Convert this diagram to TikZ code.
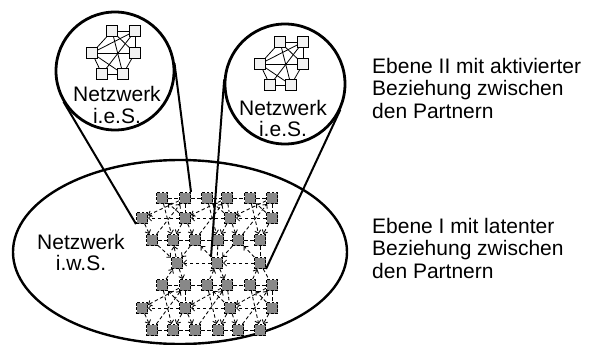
\documentclass[tikz,border=0pt]{standalone}
\usepackage{fontspec}
\setmainfont{Liberation Sans}
\usetikzlibrary{calc,arrows.meta}
\definecolor{sqgray}{RGB}{136,136,136}
\definecolor{msqfill}{RGB}{242,242,242}
\begin{document}
\begin{tikzpicture}[x=1pt,y=-1pt,
  gsq/.style={draw, dash pattern=on 2.8pt off 1.4pt, fill=sqgray, minimum size=11pt, inner sep=0pt, line width=1pt},
  msq/.style={draw, fill=msqfill, minimum size=11pt, inner sep=0pt, line width=0.8pt},
  gedge/.style={dash pattern=on 3.5pt off 2.5pt, line width=0.85pt},
  garr/.style={gedge, -{Straight Barb[length=3pt,width=6pt,line width=0.85pt]}},
  medge/.style={line width=0.8pt},
  lens/.style={draw, circle, line width=2.8pt, inner sep=0pt},
  zoomline/.style={line width=2pt},
  lbl/.style={font=\fontsize{21}{21.5}\selectfont, inner sep=0pt, align=center, anchor=north},
  side/.style={font=\fontsize{21}{22.5}\selectfont, inner sep=0pt, align=left, anchor=north west}]
\useasboundingbox (0,0) rectangle (595,345);

% wide network
\draw[line width=2.4pt] (180,252) ellipse [x radius=167, y radius=92];
\node[lbl] (iws) at (81,233.7) {Netzwerk\\i.w.S.};

% grid squares
\foreach \b/\ya/\yb/\yc in {0/198/218/240, 1/285/308/330} {
  \foreach \x [count=\i] in {162,185,207,227,250,272} \node[gsq] (a\b\i) at (\x,\ya) {};
  \foreach \x [count=\i] in {142,185,230,272} \node[gsq] (m\b\i) at (\x,\yb) {};
  \foreach \x [count=\i] in {152,173,195,218,238,260} \node[gsq] (c\b\i) at (\x,\yc) {};
}
\foreach \x [count=\i] in {177,217,260} \node[gsq] (r\i) at (\x,263) {};

% grid edges within units
\foreach \b in {0,1} {
  \foreach \u in {0,1,2} {
    \pgfmathtruncatemacro\tl{2*\u+1}
    \pgfmathtruncatemacro\tr{2*\u+2}
    \pgfmathtruncatemacro\ml{\u+1}
    \pgfmathtruncatemacro\mr{\u+2}
    \draw[gedge] (a\b\tl) -- (a\b\tr);
    \draw[gedge] (c\b\tl) -- (c\b\tr);
    \draw[garr] (m\b\mr) -- (m\b\ml);
    \draw[garr] (a\b\tr) -- (m\b\ml);
    \draw[garr] (a\b\tl) -- (c\b\tr);
    \draw[garr] (m\b\ml) -- (c\b\tl);
    \draw[garr] (m\b\mr) -- (c\b\tr);
    \draw[garr] (c\b\tl) -- (a\b\tr);
    \draw[garr] (m\b\mr) -- (a\b\tl);
    \draw[gedge] (a\b\tr) -- (m\b\mr);
  }
  \draw[gedge] (a\b2) -- (a\b3);
  \draw[gedge] (a\b4) -- (a\b5);
  \draw[gedge] (c\b2) -- (c\b3);
  \draw[gedge] (c\b4) -- (c\b5);
}
% edges between the two blocks
\draw[garr] (c01) -- (r1);
\draw[garr] (r1) -- (c02);
\draw[garr] (c03) -- (r1);
\draw[garr] (r2) -- (c03);
\draw[gedge] (c04) -- (r2);
\draw[garr] (c05) -- (r2);
\draw[garr] (r3) -- (c05);
\draw[gedge] (c06) -- (r3);
\draw[garr] (r2) -- (r1);
\draw[garr] (r3) -- (r2);
\draw[garr] (a11) -- (r1);
\draw[garr] (r1) -- (a12);
\draw[garr] (a13) -- (r2);
\draw[garr] (r2) -- (a14);
\draw[garr] (a15) -- (r3);
\draw[gedge] (r3) -- (a16);

% lenses
\node[lens, minimum size=118pt] (lc) at (115,71) {};
\node[lens, minimum size=120pt] (rc) at (285,84) {};

% small networks
\foreach \n/\dx/\dy in {l/0/0, r/168/11} {
  \node[msq] (\n tl) at (112+\dx,31+\dy) {};
  \node[msq] (\n tr) at (135+\dx,31+\dy) {};
  \node[msq] (\n ml) at (92+\dx,53+\dy) {};
  \node[msq] (\n mr) at (135+\dx,53+\dy) {};
  \node[msq] (\n bl) at (102+\dx,74+\dy) {};
  \node[msq] (\n br) at (123+\dx,74+\dy) {};
  \draw[medge] (\n tl) -- (\n tr);
  \draw[medge] (\n bl) -- (\n br);
  \draw[medge] (\n tl) -- (\n ml);
  \draw[medge] (\n tr) -- (\n mr);
  \draw[medge] (\n ml) -- (\n bl);
  \draw[medge] (\n mr) -- (\n br);
  \draw[medge] (\n ml) -- (\n mr);
  \draw[medge] (\n ml) -- (\n tr);
  \draw[medge] (\n tl) -- (\n br);
  \draw[medge] (\n tl) -- (\n mr);
  \draw[medge] (\n tr) -- (\n bl);
  \draw[medge] (\n ml) -- (\n br);
}
\node[lbl] (ies1) at (117,86.5) {Netzwerk\\i.e.S.};
\node[lbl] (ies2) at (283,99.7) {Netzwerk\\i.e.S.};

% magnifier lines (tangents to the lenses)
\draw[zoomline] let \p1=(m01.south west), \p2=(lc.center),
  \n1={veclen(\x1-\x2,\y1-\y2)}, \n2={acos(60/\n1)} in
  (\p1) -- ($(\p2)!60pt!-\n2:(\p1)$);
\draw[zoomline] let \p1=(a02.north east), \p2=(lc.center),
  \n1={veclen(\x1-\x2,\y1-\y2)}, \n2={acos(60/\n1)} in
  (\p1) -- ($(\p2)!60pt!\n2:(\p1)$);
\draw[zoomline] let \p1=(r2.north west), \p2=(rc.center),
  \n1={veclen(\x1-\x2,\y1-\y2)}, \n2={acos(61/\n1)} in
  (\p1) -- ($(\p2)!61pt!-\n2:(\p1)$);
\draw[zoomline] let \p1=(r3.south east), \p2=(rc.center),
  \n1={veclen(\x1-\x2,\y1-\y2)}, \n2={acos(61/\n1)} in
  (\p1) -- ($(\p2)!61pt!\n2:(\p1)$);

% side texts
\node[side] (t2) at (372,58) {Ebene II mit aktivierter\\Beziehung zwischen\\den Partnern};
\node[side] (t1) at (372,218) {Ebene I mit latenter\\Beziehung zwischen\\den Partnern};
\end{tikzpicture}
\end{document}
